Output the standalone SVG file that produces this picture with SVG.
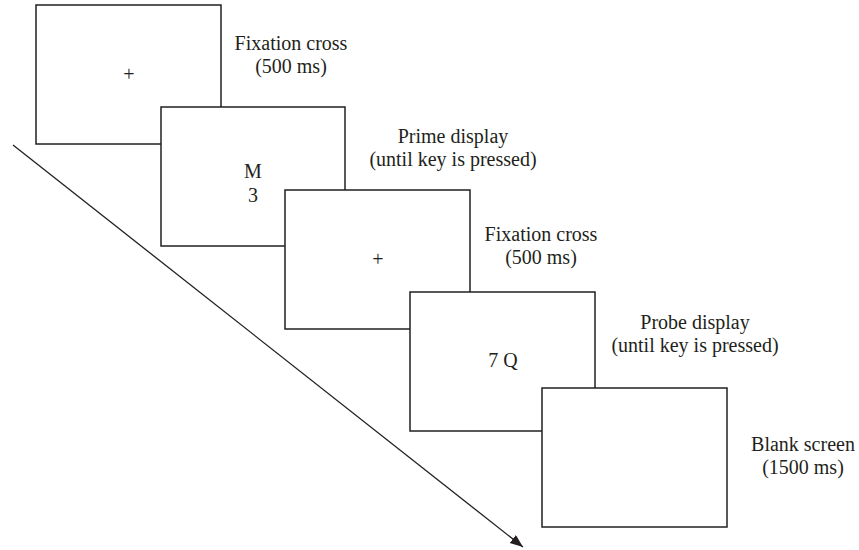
<svg xmlns="http://www.w3.org/2000/svg" width="859" height="550" viewBox="0 0 859 550">
<style>
  .box { fill: #ffffff; stroke: #231f20; stroke-width: 1.5; }
  .lbl { font-family: "Liberation Serif", "Times New Roman", serif; font-size: 20px; fill: #231f20; text-anchor: middle; }
  .conn { stroke: #231f20; stroke-width: 1.3; fill: none; }
</style>
<defs>
  <marker id="arrow" markerUnits="userSpaceOnUse" markerWidth="14" markerHeight="11" refX="13" refY="5" orient="auto">
    <path d="M0,0 L13,5 L0,10 z" fill="#231f20"/>
  </marker>
</defs>
<rect width="859" height="550" fill="#ffffff"/>
<g id="connectors">
  <line class="conn" x1="13" y1="145" x2="523" y2="547" marker-end="url(#arrow)"/>
</g>
<g id="screen1">
  <rect class="box" x="36" y="5" width="185" height="139"/>
  <text class="lbl" x="129" y="81">+</text>
  <text class="lbl" x="291" y="50">Fixation cross</text>
  <text class="lbl" x="291" y="73">(500 ms)</text>
</g>
<g id="screen2">
  <rect class="box" x="161" y="107" width="184" height="139"/>
  <text class="lbl" x="253" y="178">M</text>
  <text class="lbl" x="253" y="202">3</text>
  <text class="lbl" x="453" y="143">Prime display</text>
  <text class="lbl" x="453" y="166">(until key is pressed)</text>
</g>
<g id="screen3">
  <rect class="box" x="285" y="190" width="185" height="139"/>
  <text class="lbl" x="378" y="266">+</text>
  <text class="lbl" x="541" y="241">Fixation cross</text>
  <text class="lbl" x="541" y="264">(500 ms)</text>
</g>
<g id="screen4">
  <rect class="box" x="410" y="292" width="185" height="139"/>
  <text class="lbl" x="503" y="367">7 Q</text>
  <text class="lbl" x="695" y="329">Probe display</text>
  <text class="lbl" x="695" y="352">(until key is pressed)</text>
</g>
<g id="screen5">
  <rect class="box" x="542" y="388" width="185" height="139"/>
  <text class="lbl" x="803" y="451">Blank screen</text>
  <text class="lbl" x="803" y="474">(1500 ms)</text>
</g>
</svg>
